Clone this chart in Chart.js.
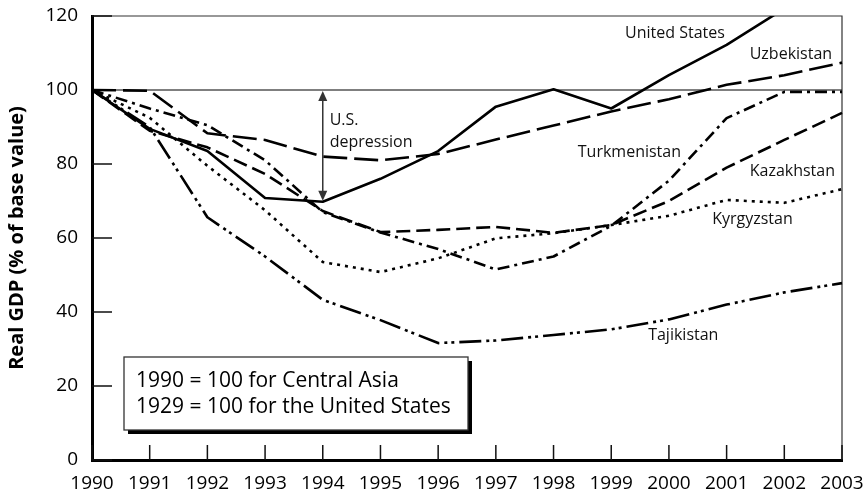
<!DOCTYPE html>
<html>
<head>
<meta charset="utf-8">
<script src="https://cdn.jsdelivr.net/npm/chart.js@4"></script>
<style>
  html, body { margin: 0; padding: 0; background: #fff; }
  #wrap { width: 868px; height: 494px; }
</style>
</head>
<body>
<div id="wrap"><canvas id="myChart"></canvas></div>
<script>
// values (index, base year = 100)
const years = ['1990', '1991', '1992', '1993', '1994', '1995', '1996', '1997', '1998', '1999', '2000', '2001', '2002', '2003'];
const unitedStates = [100, 89.5, 83.5, 70.8, 69.8, 76, 83.5, 95.5, 100.2, 95, 104, 112.2, 122, null];
const uzbekistan = [100, 99.8, 88.3, 86.5, 82, 81, 82.7, 86.6, 90.4, 94.2, 97.5, 101.4, 104, 107.4];
const kazakhstan = [100, 89, 84.5, 77.3, 67.3, 61.6, 62.2, 63, 61.4, 63.5, 70, 79, 86.5, 93.8];
const kyrgyzstan = [100, 92.5, 79.5, 67.5, 53.5, 50.8, 54.5, 59.9, 61.3, 63.5, 66, 70.3, 69.5, 73.2];
const tajikistan = [100, 90, 65.6, 55, 43.3, 37.8, 31.6, 32.3, 33.8, 35.3, 38, 42, 45.3, 47.8];
const turkmenistan = [100, 95, 90.5, 81, 67, 61.5, 57, 51.5, 55, 63.3, 75.5, 92.4, 99.5, 99.5];
const yTicks = [0, 20, 40, 60, 80, 100, 120];
const baseValue = 100;
const depressionYear = 4; // 1994 slot = 1933 for the US
const noteLines = ['1990 = 100 for Central Asia', '1929 = 100 for the United States'];

// series labels, placed in data units (x = year slot, y = value)
const seriesLabels = [
  { text: 'United States', x: 9.24, y: 115.4 },
  { text: 'Uzbekistan', x: 11.40, y: 109.7 },
  { text: 'Turkmenistan', x: 8.42, y: 83 },
  { text: 'Kazakhstan', x: 11.40, y: 78.1 },
  { text: 'Kyrgyzstan', x: 10.75, y: 65.1 },
  { text: 'Tajikistan', x: 9.64, y: 33.8 },
  { text: 'U.S.', x: 4.12, y: 91.9 },
  { text: 'depression', x: 4.12, y: 85.9 }
];

const FONT = "'Open Sans', 'Noto Sans', sans-serif";
Chart.defaults.font.family = FONT;
Chart.defaults.color = '#000';

function line(label, data, dash) {
  return {
    label: label,
    data: data,
    borderColor: '#000',
    borderWidth: 2.6,
    borderDash: dash,
    borderCapStyle: 'butt',
    borderJoinStyle: 'round',
    pointRadius: 0,
    tension: 0,
    fill: false,
    spanGaps: false
  };
}

const decor = {
  id: 'decor',
  beforeDatasetsDraw(chart) {
    const { ctx, chartArea: a, scales: { x, y } } = chart;
    ctx.save();
    // base line at 100
    const yb = y.getPixelForValue(baseValue);
    ctx.strokeStyle = '#555';
    ctx.lineWidth = 1.5;
    ctx.beginPath();
    ctx.moveTo(a.left, yb);
    ctx.lineTo(a.right, yb);
    ctx.stroke();
    // thin top + right frame
    ctx.strokeStyle = '#333';
    ctx.lineWidth = 1.2;
    ctx.beginPath();
    ctx.moveTo(a.left, a.top);
    ctx.lineTo(a.right, a.top);
    ctx.lineTo(a.right, a.bottom);
    ctx.stroke();
    // inward tick marks
    ctx.strokeStyle = '#111';
    ctx.lineWidth = 1.5;
    ctx.beginPath();
    yTicks.forEach(v => {
      const py = y.getPixelForValue(v);
      ctx.moveTo(a.left, py);
      ctx.lineTo(a.left + 20, py);
    });
    years.forEach((yr, i) => {
      const px = x.getPixelForValue(i);
      ctx.moveTo(px, a.bottom);
      ctx.lineTo(px, a.bottom - 15);
    });
    ctx.stroke();
    ctx.restore();
  },
  afterDatasetsDraw(chart) {
    const { ctx, chartArea: a, scales: { x, y } } = chart;
    ctx.save();

    // depression arrow
    const ax = x.getPixelForValue(depressionYear);
    const y1 = y.getPixelForValue(baseValue) + 1;
    const y2 = y.getPixelForValue(unitedStates[depressionYear]) - 1;
    const hl = 10, hw = 4.5;
    ctx.strokeStyle = '#333';
    ctx.fillStyle = '#333';
    ctx.lineWidth = 1.5;
    ctx.beginPath();
    ctx.moveTo(ax, y1 + hl - 2);
    ctx.lineTo(ax, y2 - hl + 2);
    ctx.stroke();
    ctx.beginPath();
    ctx.moveTo(ax, y1);
    ctx.lineTo(ax - hw, y1 + hl);
    ctx.lineTo(ax + hw, y1 + hl);
    ctx.closePath();
    ctx.fill();
    ctx.beginPath();
    ctx.moveTo(ax, y2);
    ctx.lineTo(ax - hw, y2 - hl);
    ctx.lineTo(ax + hw, y2 - hl);
    ctx.closePath();
    ctx.fill();

    // series labels
    ctx.fillStyle = '#111';
    ctx.font = '16px ' + FONT;
    ctx.textAlign = 'left';
    ctx.textBaseline = 'middle';
    seriesLabels.forEach(l => {
      ctx.fillText(l.text, x.getPixelForValue(l.x), y.getPixelForValue(l.y));
    });

    // note box with drop shadow
    const bx = a.left + 32, by = 357, bw = 344, bh = 73;
    ctx.fillStyle = '#000';
    ctx.fillRect(bx + 4, by + 4, bw, bh);
    ctx.fillStyle = '#fff';
    ctx.fillRect(bx, by, bw, bh);
    ctx.strokeStyle = '#333';
    ctx.lineWidth = 1.3;
    ctx.strokeRect(bx, by, bw, bh);
    ctx.fillStyle = '#000';
    ctx.font = '21px ' + FONT;
    ctx.fillText(noteLines[0], bx + 12, by + 24);
    ctx.fillText(noteLines[1], bx + 12, by + 50);

    ctx.restore();
  }
};

// invisible tick marks only used to space the labels off the axes
const hiddenGrid = (len) => ({
  display: true,
  drawOnChartArea: false,
  drawTicks: true,
  tickLength: len,
  color: 'rgba(0,0,0,0)'
});

const ctx = document.getElementById('myChart').getContext('2d');
new Chart(ctx, {
  type: 'line',
  data: {
    labels: years,
    datasets: [
      line('United States', unitedStates, []),
      line('Uzbekistan', uzbekistan, [24, 7]),
      line('Kazakhstan', kazakhstan, [14, 6]),
      line('Turkmenistan', turkmenistan, [12, 5, 3, 5]),
      line('Kyrgyzstan', kyrgyzstan, [3, 5]),
      line('Tajikistan', tajikistan, [22, 5, 3, 4, 3, 5])
    ]
  },
  options: {
    responsive: true,
    maintainAspectRatio: false,
    animation: false,
    layout: { padding: { left: 0, right: 26, top: 16, bottom: 0 } },
    plugins: {
      legend: { display: false },
      tooltip: { enabled: false }
    },
    scales: {
      x: {
        offset: false,
        grid: hiddenGrid(12),
        border: { display: true, color: '#000', width: 3 },
        ticks: { color: '#000', font: { size: 19 }, padding: 0, maxRotation: 0, autoSkip: false },
        afterFit(scale) { scale.height = 34; }
      },
      y: {
        min: 0,
        max: 120,
        afterBuildTicks(scale) { scale.ticks = yTicks.map(v => ({ value: v })); },
        grid: hiddenGrid(14),
        border: { display: true, color: '#000', width: 3 },
        ticks: { color: '#000', font: { size: 19 }, padding: 0 },
        title: {
          display: true,
          text: 'Real GDP (% of base value)',
          color: '#000',
          font: { size: 20, weight: 'bold' },
          padding: { top: 5, bottom: 0 }
        },
        afterFit(scale) { scale.width = 92; }
      }
    }
  },
  plugins: [decor]
});
</script>
</body>
</html>
